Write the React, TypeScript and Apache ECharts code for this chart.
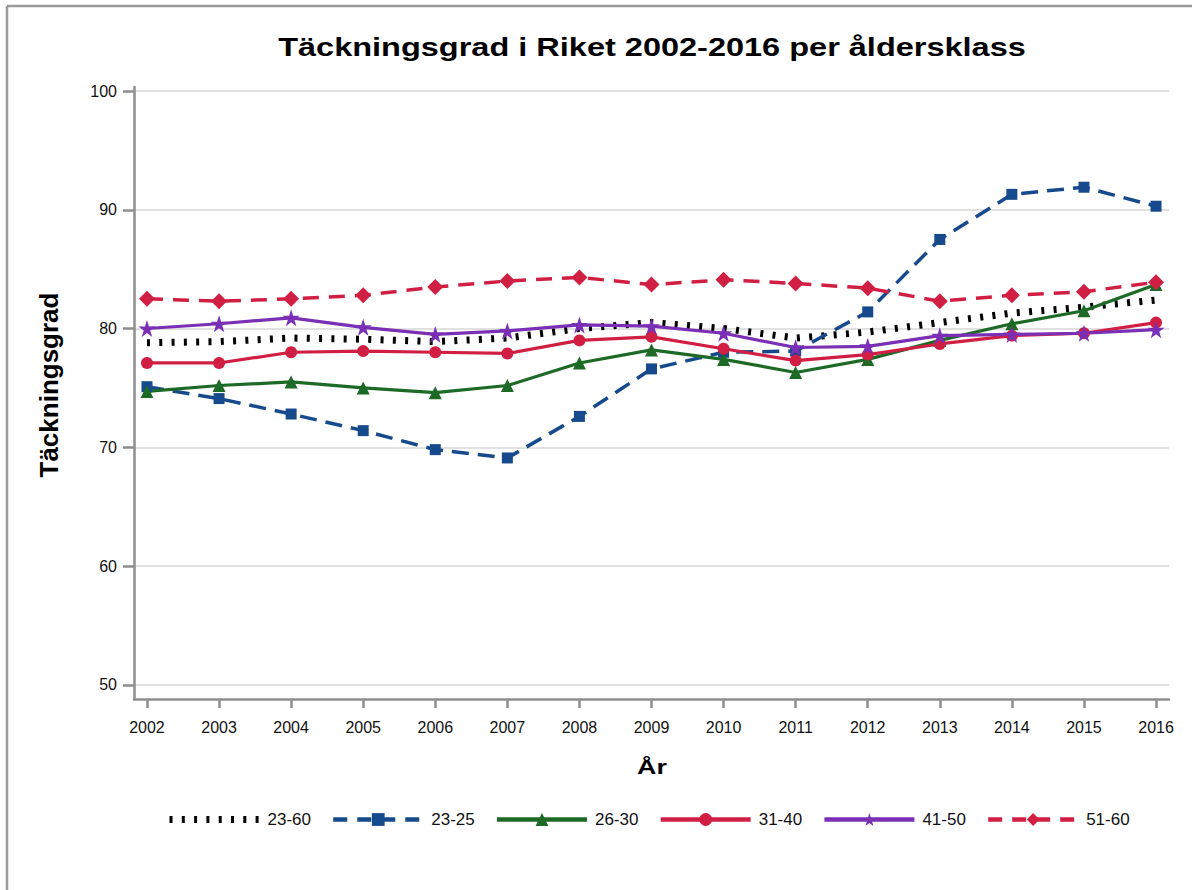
import React, { useEffect, useRef } from "react";
import * as echarts from "echarts";

const years = [2002, 2003, 2004, 2005, 2006, 2007, 2008, 2009, 2010, 2011, 2012, 2013, 2014, 2015, 2016];
const yTicks = [50, 60, 70, 80, 90, 100];

const s2360 = [78.8, 78.9, 79.2, 79.1, 78.9, 79.2, 80.0, 80.5, 80.0, 79.2, 79.7, 80.5, 81.3, 81.8, 82.4];
const s2325 = [75.1, 74.1, 72.8, 71.4, 69.8, 69.1, 72.6, 76.6, 78.0, 78.1, 81.4, 87.5, 91.3, 91.9, 90.3];
const s2630 = [74.7, 75.2, 75.5, 75.0, 74.6, 75.2, 77.1, 78.2, 77.4, 76.3, 77.4, 79.0, 80.4, 81.5, 83.7];
const s3140 = [77.1, 77.1, 78.0, 78.1, 78.0, 77.9, 79.0, 79.3, 78.3, 77.3, 77.8, 78.7, 79.4, 79.6, 80.5];
const s4150 = [80.0, 80.4, 80.9, 80.1, 79.5, 79.8, 80.3, 80.2, 79.6, 78.4, 78.5, 79.4, 79.5, 79.6, 79.9];
const s5160 = [82.5, 82.3, 82.5, 82.8, 83.5, 84.0, 84.3, 83.7, 84.1, 83.8, 83.4, 82.3, 82.8, 83.1, 83.9];

const seriesNames = ["23-60", "23-25", "26-30", "31-40", "41-50", "51-60"];

const STAR = "path://M50,0 L61.8,35.4 L100,35.4 L69.1,57.3 L80.9,92.7 L50,70.8 L19.1,92.7 L30.9,57.3 L0,35.4 L38.2,35.4 Z";

const BLUE = "#164a8c";
const GREEN = "#1d6a26";
const RED = "#d11f43";
const PURPLE = "#7a2fb4";
const AXIS = "#8e8e8e";
const FONT = "'Liberation Sans', Arial, sans-serif";

const toPairs = (vals: number[]) => years.map((y, i) => [y, vals[i]]);

export default function App() {
  const ref = useRef<HTMLDivElement>(null);
  useEffect(() => {
    if (!ref.current) return;
    const chart = echarts.init(ref.current, undefined, { renderer: "svg" });
    const mk = (
      name: string,
      vals: number[],
      color: string,
      lineType: any,
      width: number,
      symbol: string,
      symbolSize: number
    ) => ({
      name,
      type: "line",
      data: toPairs(vals),
      symbol,
      symbolSize,
      showSymbol: symbol !== "none",
      lineStyle: { color, width, type: lineType, cap: "butt" },
      itemStyle: { color, borderWidth: 0 },
      emphasis: { disabled: true },
    });
    chart.setOption({
      animation: false,
      backgroundColor: "#ffffff",
      textStyle: { fontFamily: FONT },
      grid: { left: 134, top: 87, width: 1035, height: 612, containLabel: false },
      xAxis: {
        type: "value",
        min: 2001.82,
        max: 2016.18,
        axisLine: { show: true, lineStyle: { color: AXIS, width: 2.5 } },
        axisTick: { show: true, length: 9, lineStyle: { color: AXIS, width: 2.5 }, customValues: years },
        axisLabel: {
          customValues: years,
          margin: 20,
          fontSize: 16,
          color: "#111",
          fontFamily: FONT,
          formatter: (v: number) => String(Math.round(v)),
        },
        splitLine: { show: false },
      },
      yAxis: {
        type: "value",
        min: 48.8,
        max: 100.34,
        axisLine: { show: true, lineStyle: { color: AXIS, width: 2.5 } },
        axisTick: { show: true, length: 11, lineStyle: { color: AXIS, width: 2.5 }, customValues: yTicks },
        axisLabel: {
          customValues: yTicks,
          margin: 17,
          fontSize: 16,
          color: "#111",
          fontFamily: FONT,
          formatter: (v: number) => String(Math.round(v)),
        },
        splitLine: { show: true, lineStyle: { color: "#e1e1e1", width: 2 } },
      },
      legend: {
        left: 166,
        top: 811,
        padding: 0,
        itemWidth: 90,
        itemHeight: 16,
        itemGap: 20,
        data: [
          { name: "23-60", itemStyle: { color: "rgba(0,0,0,0)" }, lineStyle: { width: 7, color: "#000", type: [3, 9.3] } },
          { name: "23-25", lineStyle: { width: 4.5, color: BLUE, type: [14, 10] } },
          { name: "26-30", lineStyle: { width: 4.5, color: GREEN, type: "solid" } },
          { name: "31-40", lineStyle: { width: 4.5, color: RED, type: "solid" } },
          { name: "41-50", lineStyle: { width: 4.5, color: PURPLE, type: "solid" } },
          { name: "51-60", lineStyle: { width: 4.5, color: RED, type: [14, 10] } },
        ],
        textStyle: { fontSize: 17, color: "#111", fontFamily: FONT, padding: [0, 0, 0, 3] },
        selectedMode: false,
      },
      series: [
        mk(seriesNames[0], s2360, "#000000", [3, 9.3], 7, "none", 0),
        mk(seriesNames[1], s2325, BLUE, [17, 9], 3.5, "rect", 11),
        mk(seriesNames[2], s2630, GREEN, "solid", 3.2, "triangle", 13),
        mk(seriesNames[3], s3140, RED, "solid", 3.2, "circle", 12),
        mk(seriesNames[4], s4150, PURPLE, "solid", 3.2, STAR, 17),
        mk(seriesNames[5], s5160, RED, [16, 10], 3.5, "diamond", 16),
      ],
      graphic: [
        { type: "line", shape: { x1: 7, y1: 6, x2: 1192, y2: 6 }, style: { stroke: "#9a9a9a", lineWidth: 2.5 }, silent: true },
        { type: "line", shape: { x1: 7, y1: 6, x2: 7, y2: 890 }, style: { stroke: "#9a9a9a", lineWidth: 2.5 }, silent: true },
        {
          type: "text",
          x: 652,
          y: 47,
          scaleX: 1.3,
          style: {
            text: "Täckningsgrad i Riket 2002-2016 per åldersklass",
            font: "bold 25px " + FONT,
            fill: "#000",
            align: "center",
            verticalAlign: "middle",
          },
          silent: true,
        },
        {
          type: "text",
          x: 652,
          y: 767,
          scaleX: 1.28,
          style: {
            text: "År",
            font: "bold 21px " + FONT,
            fill: "#000",
            align: "center",
            verticalAlign: "middle",
          },
          silent: true,
        },
        {
          type: "text",
          x: 49,
          y: 385,
          rotation: Math.PI / 2,
          style: {
            text: "Täckningsgrad",
            font: "bold 26px " + FONT,
            fill: "#000",
            align: "center",
            verticalAlign: "middle",
          },
          silent: true,
        },
      ],
    });
    return () => chart.dispose();
  }, []);
  return (
    <div
      ref={ref}
      style={{ position: "absolute", left: 0, top: 0, width: 1192, height: 890 }}
    />
  );
}
